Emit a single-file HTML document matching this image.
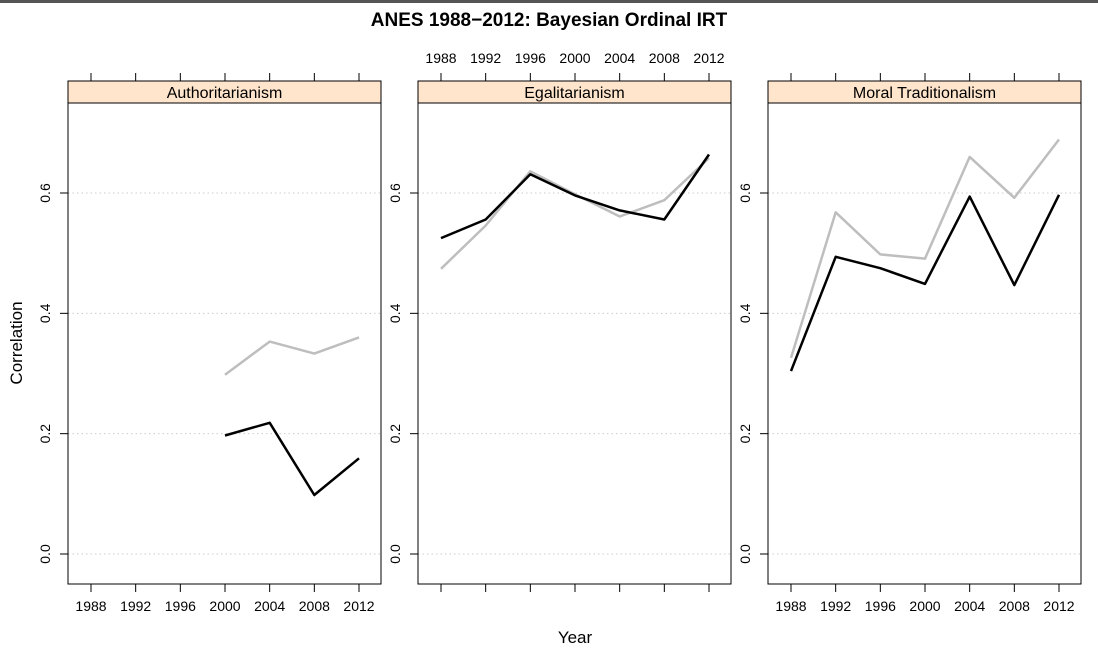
<!DOCTYPE html>
<html><head><meta charset="utf-8"><style>
html,body{margin:0;padding:0;background:#fff;width:1098px;height:661px;overflow:hidden}
svg text{font-family:"Liberation Sans",Arial,sans-serif}
</style></head><body>
<svg id="chart" width="1098" height="661" xmlns="http://www.w3.org/2000/svg">
<rect x="0" y="0" width="1098" height="3" fill="#555"/>
<text x="549" y="26" text-anchor="middle" font-size="19" font-weight="bold">ANES 1988−2012: Bayesian Ordinal IRT</text>
<text x="575" y="643" text-anchor="middle" font-size="17">Year</text>
<text transform="translate(22,343) rotate(-90)" text-anchor="middle" font-size="17">Correlation</text>
<g id="panels"></g>
</svg>
<script>
const years = [1988, 1992, 1996, 2000, 2004, 2008, 2012];
const yTicks = [0.0, 0.2, 0.4, 0.6];
const panelNames = ["Authoritarianism", "Egalitarianism", "Moral Traditionalism"];
const authYears = [2000, 2004, 2008, 2012];
const authBlack = [0.197, 0.218, 0.098, 0.159];
const authGray = [0.298, 0.353, 0.333, 0.360];
const egalBlack = [0.525, 0.556, 0.631, 0.596, 0.571, 0.556, 0.664];
const egalGray = [0.474, 0.546, 0.636, 0.598, 0.561, 0.588, 0.658];
const moralBlack = [0.304, 0.494, 0.475, 0.449, 0.594, 0.447, 0.597];
const moralGray = [0.326, 0.568, 0.498, 0.491, 0.660, 0.592, 0.689];

const NS = "http://www.w3.org/2000/svg";
const g = document.getElementById('panels');
const lefts = [68, 418, 768];
const W = 313, topY = 103, bottomY = 584, stripTop = 81;
function yS(v){ return 554 - v * (554 - 193) / 0.6; }
function xS(p, yr){ return lefts[p] + 23 + (yr - 1988) * (268 / 24); }
function mk(tag, attrs){ const e = document.createElementNS(NS, tag); for (const k in attrs) e.setAttribute(k, attrs[k]); g.appendChild(e); return e; }

const series = [
  [[authYears, authGray, '#bebebe'], [authYears, authBlack, '#000']],
  [[years, egalGray, '#bebebe'], [years, egalBlack, '#000']],
  [[years, moralGray, '#bebebe'], [years, moralBlack, '#000']]
];

for (let p = 0; p < 3; p++) {
  const L = lefts[p];
  yTicks.forEach(v => {
    const gl = mk('line', {x1: L, x2: L + W, y1: yS(v), y2: yS(v), stroke: '#ccc', 'stroke-dasharray': '1.5,3'});
    
    
    const tk = mk('line', {x1: L - 8, x2: L, y1: yS(v), y2: yS(v), stroke: '#000'});
    
    
    const t = mk('text', {transform: `translate(${L - 18},${yS(v)}) rotate(-90)`, 'text-anchor': 'middle', 'font-size': 14});
    t.textContent = v.toFixed(1);
    
    
  });
  years.forEach(yr => {
    const x = xS(p, yr);
    const t1 = mk('line', {x1: x, x2: x, y1: stripTop - 8, y2: stripTop, stroke: '#000'});
    
    
    const t2 = mk('line', {x1: x, x2: x, y1: bottomY, y2: bottomY + 8, stroke: '#000'});
    
    
    if (p !== 1) {
      const t = mk('text', {x: x, y: 611, 'text-anchor': 'middle', 'font-size': 14});
      t.textContent = yr;
      
      
    } else {
      const t = mk('text', {x: x, y: 63, 'text-anchor': 'middle', 'font-size': 14});
      t.textContent = yr;
      
      
    }
  });
  series[p].forEach(([xs, vs, col], i) => {
    const pts = xs.map((yr, j) => xS(p, yr).toFixed(1) + ',' + yS(vs[j]).toFixed(1)).join(' ');
    const pl = mk('polyline', {points: pts, fill: 'none', stroke: col, 'stroke-width': 2.5, 'stroke-linejoin': 'round'});
    
    
  });
  const fr = mk('rect', {x: L, y: topY, width: W, height: bottomY - topY, fill: 'none', stroke: '#000'});
  
  
  const st = mk('rect', {x: L, y: stripTop, width: W, height: topY - stripTop, fill: '#ffe5cc', stroke: '#000'});
  
  
  const sl = mk('text', {x: L + W / 2, y: stripTop + 17, 'text-anchor': 'middle', 'font-size': 16});
  sl.textContent = panelNames[p];
  
  
}
</script>
</body></html>
